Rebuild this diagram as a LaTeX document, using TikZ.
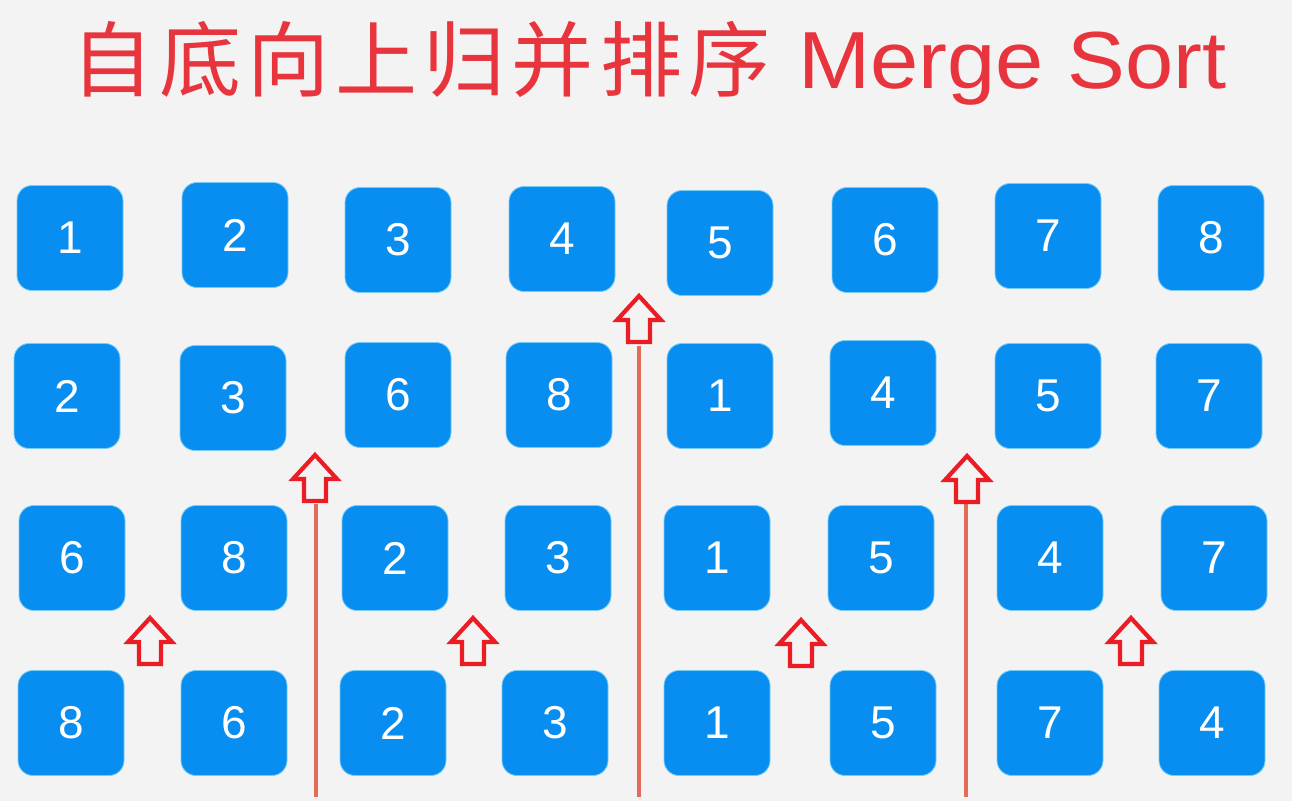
\documentclass[tikz,border=0pt]{standalone}
\usepackage{fontspec}
\setmainfont{Liberation Sans}
\newfontfamily\cjk[LetterSpace=7.5]{Noto Sans CJK SC}
\definecolor{bgc}{RGB}{243,243,243}
\definecolor{boxc}{RGB}{8,141,240}
\definecolor{boxedge}{RGB}{120,205,245}
\definecolor{titlec}{RGB}{232,52,60}
\definecolor{arrc}{RGB}{236,28,36}
\definecolor{linec}{RGB}{226,108,88}
\tikzset{
  numbox/.style={fill=boxc, draw=boxedge, line width=0.8pt, rounded corners=15pt,
    minimum width=106pt, minimum height=105pt, inner sep=0pt, text=white,
    font=\fontsize{46}{50}\selectfont},
  hollowarr/.style={draw=arrc, line width=4.2pt, line join=miter},
  divline/.style={draw=linec, line width=3.6pt},
}
\newcommand\hollowup[2]{%
  \draw[hollowarr] (#1,#2) -- ++(22,24) -- ++(-11,0) -- ++(0,22) -- ++(-22,0)
    -- ++(0,-22) -- ++(-11,0) -- cycle;}
\begin{document}
\begin{tikzpicture}[x=1pt,y=-1pt]
\fill[bgc] (0,0) rectangle (1292,801);
\useasboundingbox (0,0) rectangle (1292,801);
% title
\node[anchor=base west, inner sep=0pt, text=titlec, font=\fontsize{82}{90}\selectfont] (tcjk) at (71,90) {\cjk 自底向上归并排序};
\node[anchor=base west, inner sep=0pt, text=titlec, font=\fontsize{81}{90}\selectfont] (tlat) at (798,88) {\scalebox{1.07}[1]{Merge Sort}};
% row 1
\node[numbox] (a1) at (70,238) {1};
\node[numbox] (a2) at (235,235) {2};
\node[numbox] (a3) at (398,240) {3};
\node[numbox] (a4) at (562,239) {4};
\node[numbox] (a5) at (720,243) {5};
\node[numbox] (a6) at (885,240) {6};
\node[numbox] (a7) at (1048,236) {7};
\node[numbox] (a8) at (1211,238) {8};
% row 2
\node[numbox] (b1) at (67,396) {2};
\node[numbox] (b2) at (233,398) {3};
\node[numbox] (b3) at (398,395) {6};
\node[numbox] (b4) at (559,395) {8};
\node[numbox] (b5) at (720,396) {1};
\node[numbox] (b6) at (883,393) {4};
\node[numbox] (b7) at (1048,396) {5};
\node[numbox] (b8) at (1209,396) {7};
% row 3
\node[numbox] (c1) at (72,558) {6};
\node[numbox] (c2) at (234,558) {8};
\node[numbox] (c3) at (395,558) {2};
\node[numbox] (c4) at (558,558) {3};
\node[numbox] (c5) at (717,558) {1};
\node[numbox] (c6) at (881,558) {5};
\node[numbox] (c7) at (1050,558) {4};
\node[numbox] (c8) at (1214,558) {7};
% row 4
\node[numbox] (d1) at (71,723) {8};
\node[numbox] (d2) at (234,723) {6};
\node[numbox] (d3) at (393,723) {2};
\node[numbox] (d4) at (555,723) {3};
\node[numbox] (d5) at (717,723) {1};
\node[numbox] (d6) at (883,723) {5};
\node[numbox] (d7) at (1050,723) {7};
\node[numbox] (d8) at (1212,723) {4};
% divider lines
\coordinate (l1t) at (316,504); \coordinate (l1b) at (316,797);
\coordinate (l2t) at (639,346); \coordinate (l2b) at (639,797);
\coordinate (l3t) at (966,504); \coordinate (l3b) at (966,797);
\draw[divline] (l1t) -- (l1b);
\draw[divline] (l2t) -- (l2b);
\draw[divline] (l3t) -- (l3b);
% arrows
\hollowup{639}{296}
\hollowup{315}{455}
\hollowup{967}{456}
\hollowup{150}{618}
\hollowup{473}{618}
\hollowup{801}{620}
\hollowup{1131}{618}
\end{tikzpicture}
\end{document}
